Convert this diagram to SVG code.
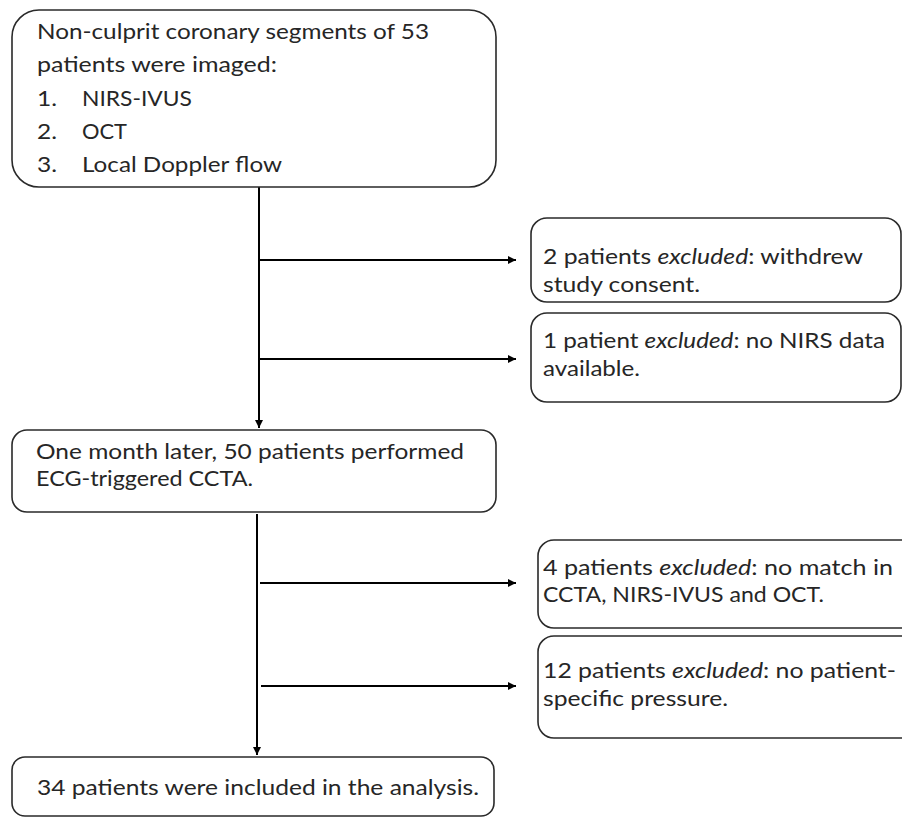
<svg xmlns="http://www.w3.org/2000/svg" width="902" height="818" viewBox="0 0 902 818">
<style>
.box{fill:#fff;stroke:#2a2a2a;stroke-width:1.6}
.t{font-family:Lato,"Open Sans","Liberation Sans",sans-serif;font-size:22px;fill:#262626}
.c{stroke:#000;stroke-width:2;fill:none}
.i{font-style:italic}
</style>
<defs>
<marker id="ah" markerWidth="10" markerHeight="10" refX="8" refY="4" orient="auto" markerUnits="userSpaceOnUse">
<path d="M0,0 L8,4 L0,8 Z" fill="#000"/>
</marker>
</defs>
<rect width="902" height="818" fill="#fff"/>
<g id="connectors">
<line class="c" x1="259" y1="187" x2="259" y2="428" marker-end="url(#ah)"/>
<line class="c" x1="260" y1="260" x2="516" y2="260" marker-end="url(#ah)"/>
<line class="c" x1="260" y1="359" x2="516" y2="359" marker-end="url(#ah)"/>
<line class="c" x1="257" y1="514" x2="257" y2="755" marker-end="url(#ah)"/>
<line class="c" x1="260" y1="583" x2="516" y2="583" marker-end="url(#ah)"/>
<line class="c" x1="261" y1="686" x2="516" y2="686" marker-end="url(#ah)"/>
</g>
<g id="n1">
<rect class="box" x="12" y="10" width="484" height="177" rx="27" ry="27"/>
<text class="t" x="37" y="39" textLength="392" lengthAdjust="spacingAndGlyphs">Non-culprit coronary segments of 53</text>
<text class="t" x="37" y="72" textLength="240" lengthAdjust="spacingAndGlyphs">patients were imaged:</text>
<text class="t" x="37" y="106" textLength="20" lengthAdjust="spacingAndGlyphs">1.</text>
<text class="t" x="82" y="106" textLength="110" lengthAdjust="spacingAndGlyphs">NIRS-IVUS</text>
<text class="t" x="37" y="139" textLength="20" lengthAdjust="spacingAndGlyphs">2.</text>
<text class="t" x="82" y="139" textLength="45" lengthAdjust="spacingAndGlyphs">OCT</text>
<text class="t" x="37" y="172" textLength="20" lengthAdjust="spacingAndGlyphs">3.</text>
<text class="t" x="82" y="172" textLength="200" lengthAdjust="spacingAndGlyphs">Local Doppler flow</text>
</g>
<g id="n2">
<rect class="box" x="531" y="218" width="370" height="84" rx="16" ry="16"/>
<text class="t" x="543" y="264" textLength="320" lengthAdjust="spacingAndGlyphs">2 patients <tspan class="i">excluded</tspan>: withdrew</text>
<text class="t" x="543" y="292" textLength="157" lengthAdjust="spacingAndGlyphs">study consent.</text>
</g>
<g id="n3">
<rect class="box" x="531" y="313" width="370" height="89" rx="16" ry="16"/>
<text class="t" x="543" y="348" textLength="342" lengthAdjust="spacingAndGlyphs">1 patient <tspan class="i">excluded</tspan>: no NIRS data</text>
<text class="t" x="543" y="376" textLength="97" lengthAdjust="spacingAndGlyphs">available.</text>
</g>
<g id="n4">
<rect class="box" x="12" y="430" width="484" height="82" rx="15" ry="15"/>
<text class="t" x="36" y="459" textLength="428" lengthAdjust="spacingAndGlyphs">One month later, 50 patients performed</text>
<text class="t" x="36" y="486" textLength="217" lengthAdjust="spacingAndGlyphs">ECG-triggered CCTA.</text>
</g>
<g id="n5">
<rect class="box" x="538" y="540" width="380" height="88" rx="16" ry="16"/>
<text class="t" x="543" y="575" textLength="350" lengthAdjust="spacingAndGlyphs">4 patients <tspan class="i">excluded</tspan>: no match in</text>
<text class="t" x="543" y="602" textLength="281" lengthAdjust="spacingAndGlyphs">CCTA, NIRS-IVUS and OCT.</text>
</g>
<g id="n6">
<rect class="box" x="538" y="636" width="380" height="102" rx="16" ry="16"/>
<text class="t" x="543" y="678" textLength="353" lengthAdjust="spacingAndGlyphs">12 patients <tspan class="i">excluded</tspan>: no patient-</text>
<text class="t" x="543" y="706" textLength="185" lengthAdjust="spacingAndGlyphs">specific pressure.</text>
</g>
<g id="n7">
<rect class="box" x="12" y="757" width="482" height="59" rx="13" ry="13"/>
<text class="t" x="37" y="795" textLength="442" lengthAdjust="spacingAndGlyphs">34 patients were included in the analysis.</text>
</g>
</svg>
